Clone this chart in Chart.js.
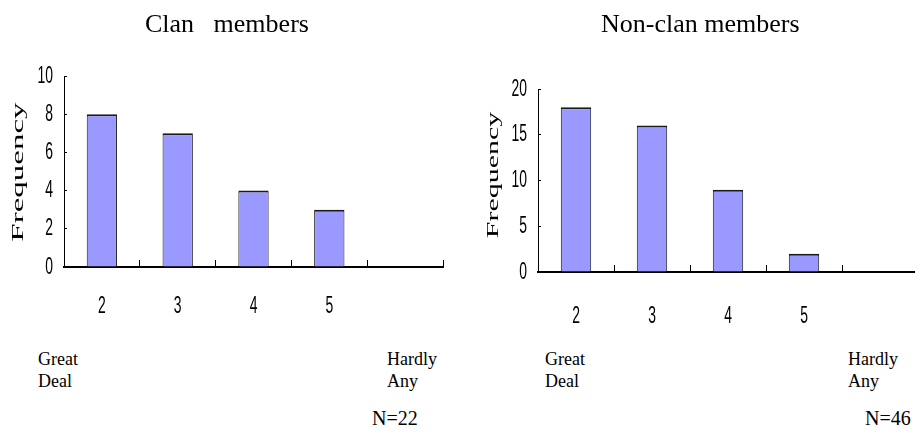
<!DOCTYPE html>
<html>
<head>
<meta charset="utf-8">
<script src="https://cdn.jsdelivr.net/npm/chart.js@4"></script>
<style>
  html, body { margin: 0; padding: 0; background: #fff; }
  body { width: 915px; height: 439px; overflow: hidden; position: relative; }
  .pane { position: absolute; top: 0; height: 330px; }
  .txt { position: absolute; font-family: "Liberation Serif", "Times New Roman", serif; color: #000; white-space: pre; }
  .title { font-size: 26px; line-height: 30px; top: 9px; }
  .note { font-size: 18px; line-height: 22px; top: 348px; }
  .n { font-size: 20px; line-height: 24px; top: 406px; }
  .ylab { font-size: 17px; line-height: 20px; width: 100px; height: 20px; text-align: center; }
</style>
</head>
<body>
<div class="pane" style="left:0;width:460px;"><canvas id="clan"></canvas></div>
<div class="pane" style="left:460px;width:465px;"><canvas id="nonclan"></canvas></div>

<div class="txt title" style="left:145px;">Clan   members</div>
<div class="txt title" style="left:601px;">Non-clan members</div>

<div class="txt ylab" style="left:-32px;top:162px;transform:rotate(-90deg) scaleX(1.94);">Frequency</div>
<div class="txt ylab" style="left:443px;top:165px;transform:rotate(-90deg) scaleX(1.76);">Frequency</div>

<div class="txt note" style="left:38px;">Great
Deal</div>
<div class="txt note" style="left:387px;">Hardly
Any</div>
<div class="txt n" style="left:372px;">N=22</div>

<div class="txt note" style="left:545px;">Great
Deal</div>
<div class="txt note" style="left:848px;">Hardly
Any</div>
<div class="txt n" style="left:865px;">N=46</div>

<script>
// Response categories (2 = a great deal ... last = hardly any)
const categories = ['2', '3', '4', '5', ''];
const clanCounts = [8, 7, 4, 3, 0];
const nonClanCounts = [18, 16, 9, 2, 0];
const clanTicks = { max: 10, step: 2 };
const nonClanTicks = { max: 20, step: 5 };

const tickFont = { family: "'Liberation Sans', Arial, sans-serif", size: 24 };

// Tick numerals are set in a tall, narrow face: squeeze canvas text horizontally.
const narrowTicks = {
  id: 'narrowTicks',
  beforeDraw(chart) {
    const ctx = chart.ctx;
    if (ctx.__narrow) return;
    const fill = ctx.fillText.bind(ctx);
    ctx.fillText = function (text, x, y) {
      const w = ctx.measureText(text).width;
      return fill(text, x, y, Math.max(1, w * 0.58));
    };
    ctx.__narrow = true;
  }
};

function makeChart(id, counts, yTicks, box) {
  const ctx = document.getElementById(id);
  return new Chart(ctx, {
    type: 'bar',
    data: {
      labels: categories,
      datasets: [{
        data: counts,
        backgroundColor: '#9999ff',
        borderColor: '#1a1a1a',
        borderWidth: { top: 2, left: 1, right: 1, bottom: 0 },
        borderSkipped: false,
        categoryPercentage: 1,
        barPercentage: 0.4
      }]
    },
    options: {
      responsive: false,
      animation: false,
      devicePixelRatio: 1,
      layout: { padding: { left: 0, top: box.top, right: box.right, bottom: 0 } },
      plugins: { legend: { display: false }, tooltip: { enabled: false }, title: { display: false } },
      scales: {
        x: {
          grid: { display: true, drawOnChartArea: false, drawTicks: true, tickLength: -7, color: '#000', lineWidth: 1 },
          border: { display: true, color: '#000', width: 2 },
          ticks: { color: '#000', font: tickFont, padding: box.xPad, maxRotation: 0 },
          afterFit: s => { s.height = box.xHeight; }
        },
        y: {
          min: 0,
          max: yTicks.max,
          grid: { display: true, drawOnChartArea: false, drawTicks: true, tickLength: -3, color: '#000', lineWidth: 1 },
          border: { display: true, color: '#000', width: 1 },
          ticks: { stepSize: yTicks.step, color: '#000', font: tickFont, padding: 14 },
          afterFit: s => { s.width = box.yWidth; }
        }
      }
    },
    plugins: [narrowTicks]
  });
}

document.getElementById('clan').width = 460;
document.getElementById('clan').height = 330;
document.getElementById('nonclan').width = 465;
document.getElementById('nonclan').height = 330;

makeChart('clan', clanCounts, clanTicks, { top: 76, right: 17, yWidth: 64, xHeight: 63, xPad: 32 });
makeChart('nonclan', nonClanCounts, nonClanTicks, { top: 89, right: 7, yWidth: 78, xHeight: 58, xPad: 37 });
</script>
</body>
</html>
